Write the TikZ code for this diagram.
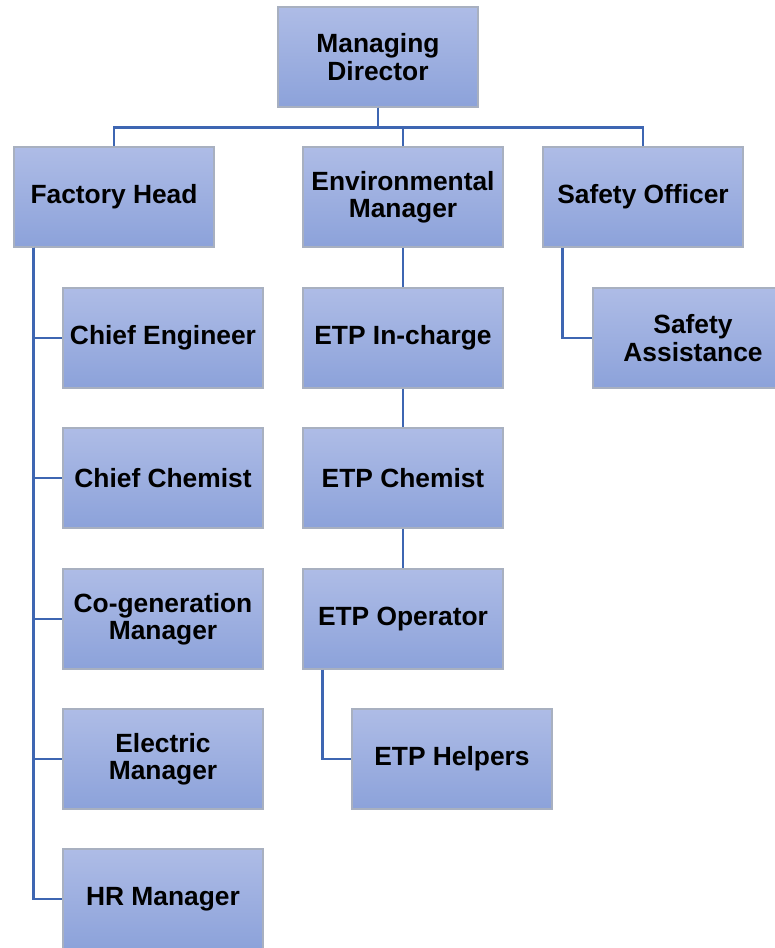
\documentclass[tikz,border=0pt]{standalone}
\usepackage{fontspec}
\setmainfont{Liberation Sans}
\usepackage{xcolor}
\usepackage{tikz}
\usetikzlibrary{positioning}
\definecolor{boxtop}{RGB}{174, 188, 230}
\definecolor{boxbottom}{RGB}{140, 162, 218}
\definecolor{boxedge}{RGB}{168, 176, 192}
\definecolor{linkblue}{RGB}{62, 102, 178}
\tikzstyle{post} = [rectangle, draw=boxedge, line width=0.6pt, top color=boxtop, bottom color=boxbottom, minimum width=4cm, minimum height=2cm, align=center, font=\fontsize{15}{15.5}\selectfont\bfseries]
\tikzstyle{link} = [draw=linkblue, line width=1.4pt]
\begin{document}
\begin{tikzpicture}
    \useasboundingbox (0, 0) rectangle (15.5, -18.96);
    \clip (0, 0) rectangle (15.5, -18.96);

    % Top
    \node[post] (md) at (7.56, -1.14) {Managing\\Director};

    % Second level
    \node[post] (fh) at (2.28, -3.94) {Factory Head};
    \node[post] (em) at (8.06, -3.94) {Environmental\\Manager};
    \node[post] (so) at (12.86, -3.94) {Safety Officer};

    % Factory staff
    \node[post] (ce) at (3.26, -6.76) {Chief Engineer};
    \node[post] (cc) at (3.26, -9.56) {Chief Chemist};
    \node[post] (cg) at (3.26, -12.38) {Co-generation\\Manager};
    \node[post] (el) at (3.26, -15.18) {Electric\\Manager};
    \node[post] (hr) at (3.26, -17.98) {HR Manager};

    % ETP chain
    \node[post] (ei) at (8.06, -6.76) {ETP In-charge};
    \node[post] (ec) at (8.06, -9.56) {ETP Chemist};
    \node[post] (eo) at (8.06, -12.38) {ETP Operator};
    \node[post] (eh) at (9.04, -15.18) {ETP Helpers};

    % Safety
    \node[post] (sa) at (13.86, -6.76) {Safety\\Assistance};

    % Links
    \draw[link] (md.south) -- ++(0, -0.4) -| (fh.north);
    \draw[link] (md.south) -- ++(0, -0.4) -| (em.north);
    \draw[link] (md.south) -- ++(0, -0.4) -| (so.north);

    \draw[link] (fh.south west) ++(0.4, 0) |- (ce.west);
    \draw[link] (fh.south west) ++(0.4, 0) |- (cc.west);
    \draw[link] (fh.south west) ++(0.4, 0) |- (cg.west);
    \draw[link] (fh.south west) ++(0.4, 0) |- (el.west);
    \draw[link] (fh.south west) ++(0.4, 0) |- (hr.west);

    \draw[link] (em) -- (ei);
    \draw[link] (ei) -- (ec);
    \draw[link] (ec) -- (eo);
    \draw[link] (eo.south west) ++(0.4, 0) |- (eh.west);

    \draw[link] (so.south west) ++(0.4, 0) |- (sa.west);
\end{tikzpicture}
\end{document}
